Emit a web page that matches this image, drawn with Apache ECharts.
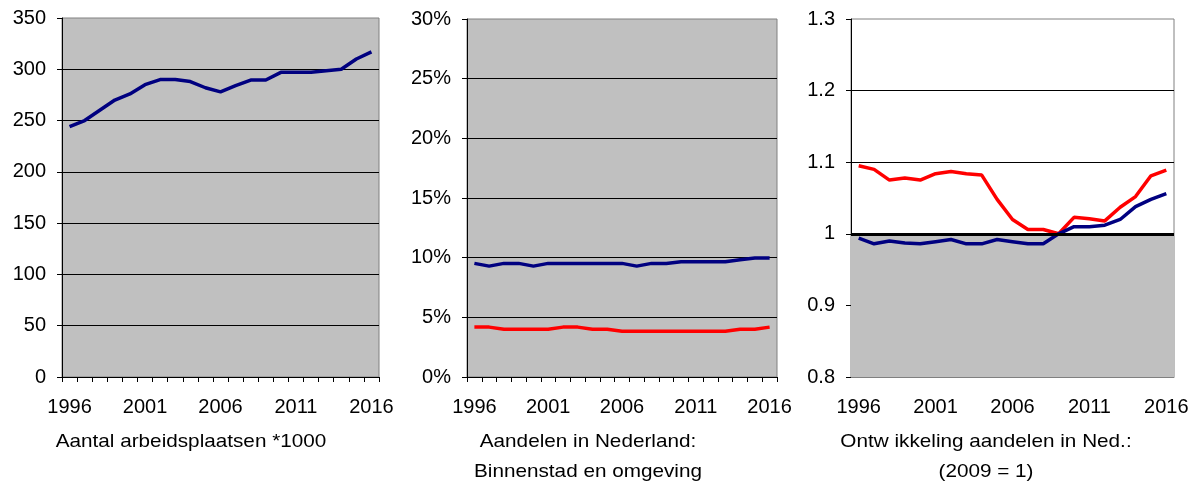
<!DOCTYPE html>
<html>
<head>
<meta charset="utf-8">
<script src="https://cdn.jsdelivr.net/npm/echarts@6/dist/echarts.min.js"></script>
<style>
html,body{margin:0;padding:0;background:#fff;}
#c{width:1199px;height:487px;}
</style>
</head>
<body>
<div id="c"></div>
<script>
var years = ['1996','1997','1998','1999','2000','2001','2002','2003','2004','2005','2006','2007','2008','2009','2010','2011','2012','2013','2014','2015','2016'];

// Panel 1: Aantal arbeidsplaatsen *1000
var jobs = [244,250,260,270,276,285,290,290,288,282,278,284,289.5,289.5,297,297,297,298.5,300,310,317];

// Panel 2: Aandelen in Nederland (%)
var shareBlue = [9.52,9.29,9.52,9.52,9.29,9.52,9.52,9.52,9.52,9.52,9.52,9.29,9.52,9.52,9.66,9.66,9.66,9.66,9.83,9.97,9.97];
var shareRed  = [4.18,4.18,4.0,4.0,4.0,4.0,4.18,4.18,4.0,4.0,3.84,3.84,3.84,3.84,3.84,3.84,3.84,3.84,4.0,4.0,4.18];

// Panel 3: Ontwikkeling aandelen (2009 = 1)
var devBlue = [0.994,0.986,0.990,0.987,0.986,0.989,0.992,0.986,0.986,0.992,0.989,0.986,0.986,1.0,1.01,1.01,1.012,1.02,1.038,1.048,1.056];
var devRed  = [1.095,1.090,1.075,1.078,1.075,1.084,1.087,1.084,1.082,1.048,1.020,1.006,1.006,1.0,1.023,1.021,1.018,1.037,1.052,1.081,1.089];

var captions = [
  ['Aantal arbeidsplaatsen *1000'],
  ['Aandelen in Nederland:', 'Binnenstad en omgeving'],
  ['Ontw ikkeling aandelen in Ned.:', '(2009 = 1)']
];

var FONT = "'Liberation Sans', Arial, sans-serif";
var NAVY = '#000080', RED = '#ff0000', BG = '#c0c0c0';

function xAx(idx, gray) {
  return {
    type: 'category', gridIndex: idx, data: years, boundaryGap: true,
    axisLine: {show: true, lineStyle: {color: gray ? '#808080' : '#000', width: 1}},
    axisTick: {show: !gray, interval: 0, length: 5, lineStyle: {color: '#000'}},
    axisLabel: {interval: 4, fontSize: 20, color: '#000', fontFamily: FONT, margin: 20},
    splitLine: {show: false}
  };
}
function yAx(idx, min, max, interval, fmt) {
  return {
    type: 'value', gridIndex: idx, min: min, max: max, interval: interval,
    axisLine: {show: true, lineStyle: {color: '#000', width: 1}},
    axisTick: {show: true, length: 5, lineStyle: {color: '#000'}},
    axisLabel: {fontSize: 20, color: '#000', fontFamily: FONT, margin: 16, formatter: fmt},
    splitLine: {show: true, showMaxLine: false, lineStyle: {color: '#000', width: 1}}
  };
}
function lineSeries(idx, data, color) {
  return {
    type: 'line', xAxisIndex: idx, yAxisIndex: idx, data: data,
    symbol: 'none', smooth: false, z: 3,
    lineStyle: {color: color, width: 3.5}, itemStyle: {color: color}
  };
}

var graphics = [];
var capCenters = [191, 588, 986];
captions.forEach(function (lines, i) {
  lines.forEach(function (t, j) {
    graphics.push({
      type: 'text', x: capCenters[i], y: 442 + j * 30, scaleX: 1.09,
      style: {text: t, fill: '#000', font: '19px ' + FONT, textAlign: 'center', textVerticalAlign: 'middle', align: 'center', verticalAlign: 'middle'}
    });
  });
});

var chart = echarts.init(document.getElementById('c'), null, {renderer: 'canvas'});
chart.setOption({
  backgroundColor: '#fff',
  animation: false,
  grid: [
    {left: 62, top: 18, width: 317, height: 359, show: true, backgroundColor: BG, borderColor: '#808080', borderWidth: 1},
    {left: 467, top: 19, width: 310, height: 358, show: true, backgroundColor: BG, borderColor: '#808080', borderWidth: 1},
    {left: 851, top: 19, width: 323, height: 358, show: true, backgroundColor: 'transparent', borderColor: '#808080', borderWidth: 1}
  ],
  xAxis: [xAx(0, false), xAx(1, false), xAx(2, true)],
  yAxis: [
    yAx(0, 0, 350, 50),
    yAx(1, 0, 30, 5, '{value}%'),
    yAx(2, 0.8, 1.3, 0.1)
  ],
  graphic: graphics,
  series: [
    lineSeries(0, jobs, NAVY),
    lineSeries(1, shareRed, RED),
    lineSeries(1, shareBlue, NAVY),
    {
      type: 'line', xAxisIndex: 2, yAxisIndex: 2, data: [], z: -1, silent: true,
      markArea: {silent: true, itemStyle: {color: BG}, data: [[{yAxis: 0.8}, {yAxis: 1.0}]]},
      markLine: {silent: true, symbol: ['none', 'none'], label: {show: false},
        lineStyle: {color: '#000', width: 3, type: 'solid'}, data: [{yAxis: 1.0}]}
    },
    lineSeries(2, devRed, RED),
    lineSeries(2, devBlue, NAVY)
  ]
});
</script>
</body>
</html>
